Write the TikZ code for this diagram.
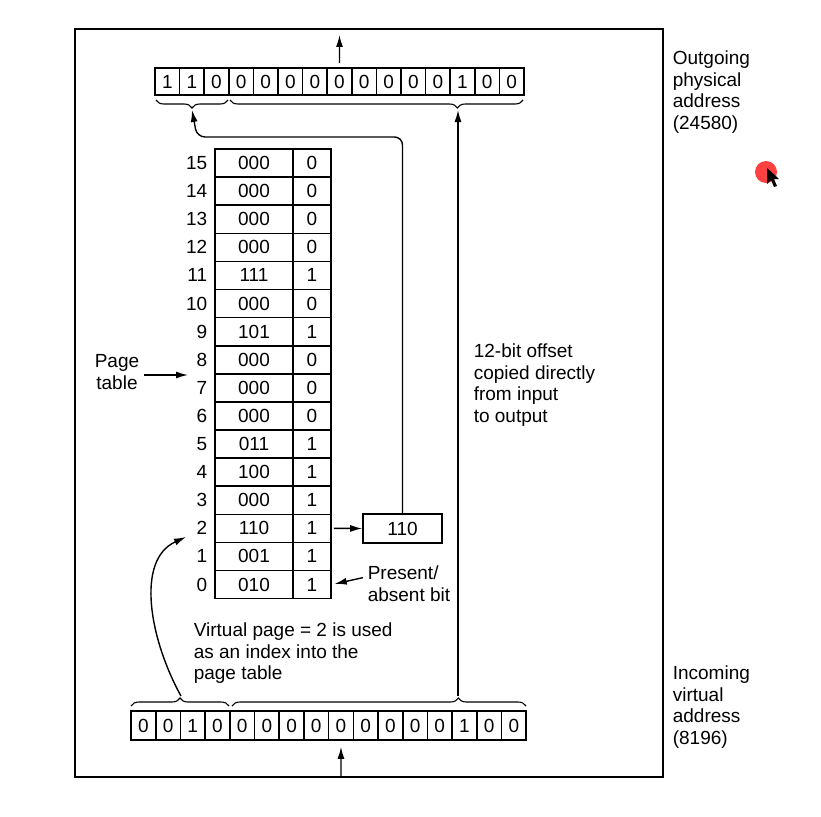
\documentclass[tikz,border=0pt]{standalone}
\usepackage{fontspec}
\setmainfont{Liberation Sans}
\usetikzlibrary{positioning,calc,arrows.meta,decorations.pathreplacing}

\tikzset{
  mmu/.style={x=1pt, y=-1pt, line width=1.6pt, font=\fontsize{19}{21.7}\selectfont},
  bitcell/.style={draw, inner sep=0pt, minimum height=27pt, minimum width=24.6pt},
  inbit/.style={draw, inner sep=0pt, minimum height=29pt, minimum width=24.7pt},
  framecell/.style={draw, inner sep=0pt, minimum height=28.1pt, minimum width=78pt},
  presentcell/.style={draw, inner sep=0pt, minimum height=28.1pt, minimum width=38pt},
  note/.style={anchor=north west, inner sep=0pt, align=left},
  arr/.style={-{Latex[length=12pt,width=7pt]}, line width=1.4pt},
  brace/.style={decorate, decoration={brace, amplitude=8pt}, line width=1.1pt}
}

\begin{document}
\begin{tikzpicture}[mmu]
  \useasboundingbox (0,0) rectangle (821,816);

  % Marco
  \draw[line width=1.8pt] (75,29) rectangle (663,777);

  % Direccion fisica (salida)
  \foreach \b [count=\i] in {1,1,0,0,0,0,0,0,0,0,0,0,1,0,0}
    \node[bitcell] (o\i) at ({155+24.6*(\i-0.5)},81.5) {\b};
  \draw[brace] (228,100) -- (156,100);
  \draw[brace, decoration={aspect=0.224}] (523,100) -- (230,100);
  \coordinate (otipA) at (192,110);
  \coordinate (otipB) at (458,110);
  \coordinate (outp) at (339.5,35);
  \draw[arr, shorten <=4pt] (o8.north) -- (outp);

  % Direccion virtual (entrada)
  \foreach \b [count=\i] in {0,0,1,0,0,0,0,0,0,0,0,0,0,1,0,0}
    \node[inbit] (v\i) at ({131+24.7*(\i-0.5)},725.5) {\b};
  \draw[brace] (131,706) -- (229,706);
  \draw[brace, decoration={aspect=0.77}] (232,706) -- (526,706);
  \coordinate (itipA) at (181,696);
  \coordinate (itipB) at (458,696);
  \coordinate (inp) at (341,777);
  \draw[arr, shorten >=6pt] (inp) -- (v9.south);

  % Tabla de paginas
  \foreach \n/\f/\p in {15/000/0, 14/000/0, 13/000/0, 12/000/0, 11/111/1,
      10/000/0, 9/101/1, 8/000/0, 7/000/0, 6/000/0, 5/011/1, 4/100/1,
      3/000/1, 2/110/1, 1/001/1, 0/010/1} {
    \pgfmathsetmacro\yy{149+(15.5-\n)*28.1}
    \node[framecell] (pf\n) at (254,\yy) {\f};
    \node[presentcell] (pb\n) at (312,\yy) {\p};
    \node[anchor=east, inner sep=0pt] (pn\n) at (208,\yy) {\n};
  }

  % Marco seleccionado
  \node[draw, inner sep=0pt, minimum width=79pt, minimum height=29pt] (frame) at (402.5,528.5) {110};
  \draw[arr, shorten <=2pt] (pb2.east) -- (frame.west);
  \coordinate (bend) at (197,137);
  \draw[arr, rounded corners=8pt] (frame.north) |- (bend) -- (otipA);

  % Desplazamiento de 12 bits
  \draw[arr] (itipB) -- (otipB);

  % Indice de pagina virtual
  \coordinate (pgidx) at (186,537);
  \draw[arr] (itipA) .. controls (150,640) and (135,560) .. (pgidx);

  % Textos
  \node[inner sep=0pt, align=center, anchor=north] (ptlbl) at (117,354) {Page\\table};
  \coordinate (ptin) at (188,375);
  \draw[arr, shorten <=4pt] (ptlbl.east |- ptin) -- (ptin);

  \node[note] (pabit) at (367,565) {Present/\\absent bit};
  \draw[arr, shorten >=3pt] ([shift={(-4pt,6pt)}]pabit.west) -- (pb0.east);

  \node[note] (vpage) at (193,622) {Virtual page = 2 is used\\as an index into the\\page table};
  \node[note] (offs) at (473,343) {12-bit offset\\copied directly\\from input\\to output};
  \node[note] (outlbl) at (672,50) {Outgoing\\physical\\address\\(24580)};
  \node[note] (inlbl) at (672,665) {Incoming\\virtual\\address\\(8196)};

  % Puntero
  \fill[red, opacity=0.75] (766,172) circle (11);
  \fill[black] (767,168) -- (767,184) -- (771,180) -- (774,187) -- (777,186)
    -- (774,179) -- (779,179) -- cycle;
\end{tikzpicture}
\end{document}
